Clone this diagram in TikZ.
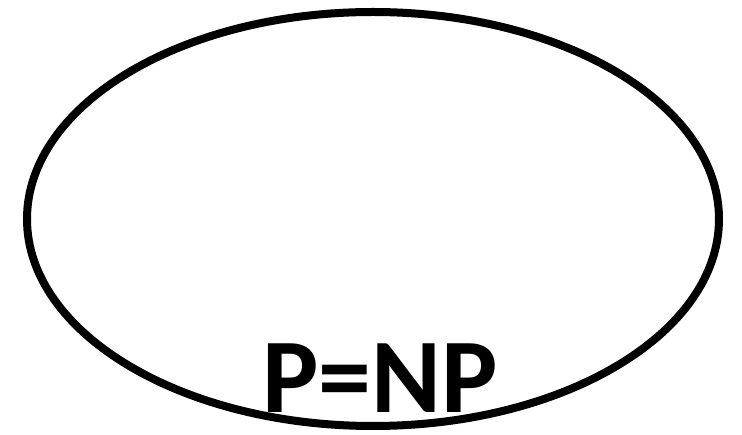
\documentclass[tikz,border=0pt]{standalone}
\usepackage{fontspec}
\setmainfont{Carlito}
\usetikzlibrary{math}

\begin{document}
\begin{tikzpicture}[x=1pt,y=-1pt]
\tikzmath{
\rx=346;
\ry=207;
}
\useasboundingbox (0,0) rectangle (742,435);

\draw[line width=8pt] (373,219) ellipse [x radius=\rx, y radius=\ry];
\node[anchor=base, inner sep=0] (pnp) at (380,413) {\fontsize{106}{106}\selectfont\bfseries P=NP};
\end{tikzpicture}
\end{document}
